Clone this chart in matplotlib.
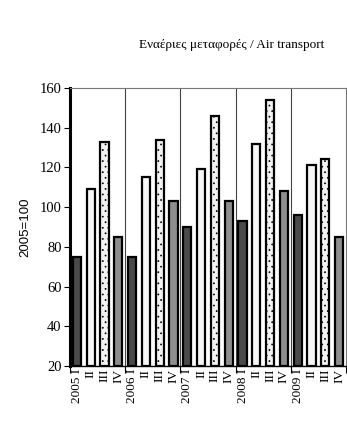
import matplotlib.pyplot as plt
import numpy as np

years = ["2005", "2006", "2007", "2008", "2009"]
quarters = ["I", "II", "III", "IV"]
values = [75, 109, 133, 85,
          75, 115, 134, 103,
          90, 119, 146, 103,
          93, 132, 154, 108,
          96, 121, 124, 85]

title = "Εναέριες μεταφορές / Air transport"
ylabel = "2005=100"
yticks = [20, 40, 60, 80, 100, 120, 140, 160]

# quarter styles: I dark, II white, III dotted, IV mid grey
FACES = ["#4a4a4a", "#f6f6f6", "#f2f2f2", "#8e8e8e"]
HATCH = [None, None, "...", None]

SERIF = ["Liberation Serif", "DejaVu Serif"]

plt.rcParams["hatch.color"] = "#9a9a9a"
plt.rcParams["hatch.linewidth"] = 0.5

fig = plt.figure(figsize=(3.47, 4.21), dpi=100, facecolor="white")
ax = fig.add_axes([70 / 347, 1 - 366 / 421, 276 / 347, 278 / 421])

pos = np.arange(len(values))
for i, v in enumerate(values):
    q = i % 4
    ax.bar(pos[i], v - 20, bottom=20, width=0.6, color=FACES[q],
           edgecolor="black", linewidth=1.6, hatch=HATCH[q], zorder=3)

# year separators
for k in range(1, len(years)):
    ax.axvline(4 * k - 0.5, color="#444444", lw=0.8, zorder=1)

ax.set_xlim(-0.5, len(values) - 0.5)
ax.set_ylim(20, 160)

ax.set_yticks(yticks)
ax.set_yticklabels([str(t) for t in yticks], family=SERIF, fontsize=10.5)
ax.tick_params(axis="y", length=4, width=0.8, pad=2)

# major ticks at year boundaries, minor labelled per quarter
ax.set_xticks(np.arange(-0.5, len(values), 4))
ax.set_xticklabels([])
ax.tick_params(axis="x", which="major", length=5, width=0.8, direction="out")
ax.set_xticks(pos, minor=True)
xl = []
for y in years:
    for q in quarters:
        xl.append(f"{y} {q}" if q == "I" else q)
ax.set_xticklabels(xl, minor=True, rotation=90, family=SERIF, fontsize=9.5,
                   va="top", ha="center")
ax.tick_params(axis="x", which="minor", length=0, pad=2)

ax.spines["left"].set_linewidth(2.2)
ax.spines["bottom"].set_linewidth(1.0)
ax.spines["top"].set_color("#777777")
ax.spines["right"].set_color("#777777")
ax.spines["top"].set_linewidth(0.8)
ax.spines["right"].set_linewidth(0.8)

ax.set_ylabel(ylabel, family=["Liberation Sans", "DejaVu Sans"], fontsize=9.5, labelpad=6)

fig.text(232 / 347, 1 - 45 / 421, title, family=SERIF, fontsize=9.5,
         ha="center", va="center")

fig.savefig("out.png", dpi=100, facecolor="white")
